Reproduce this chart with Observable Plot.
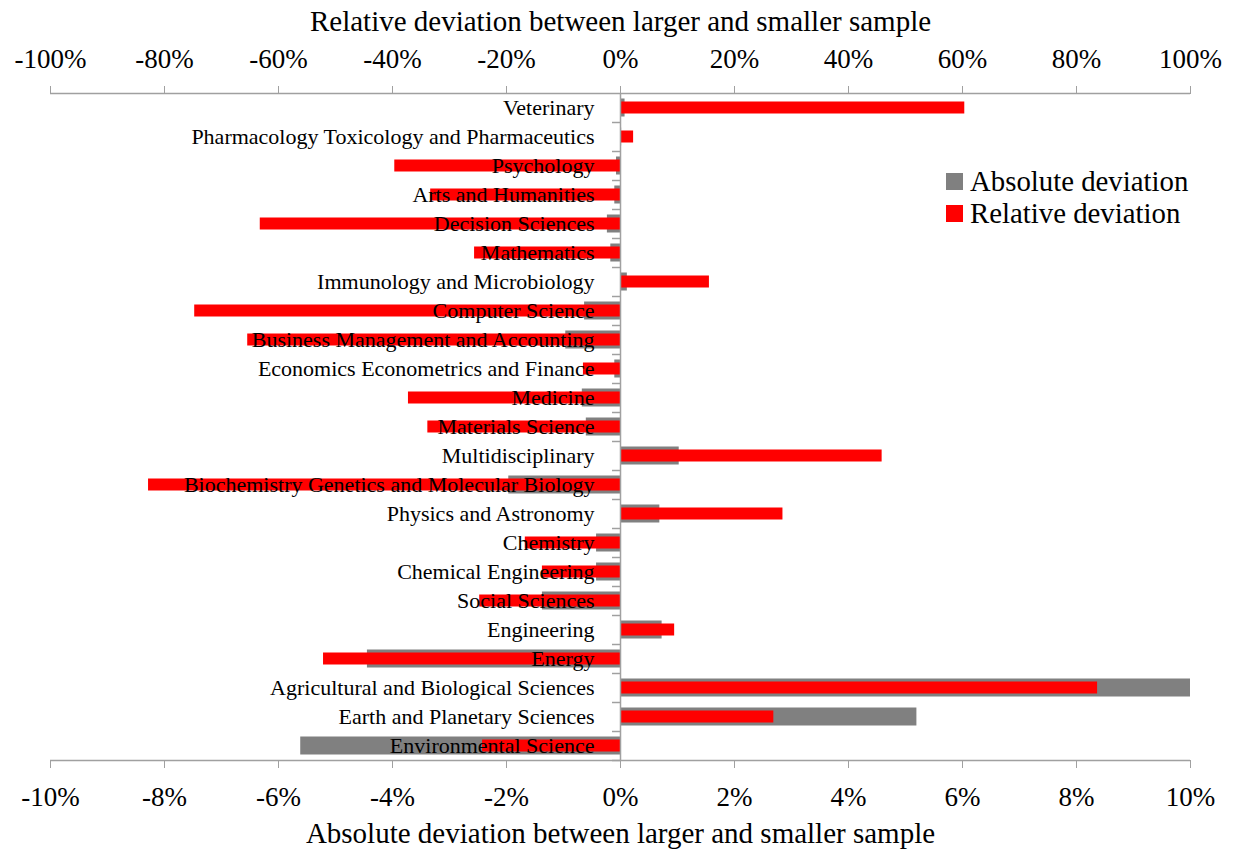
<!DOCTYPE html>
<html>
<head>
<meta charset="utf-8">
<script src="https://cdn.jsdelivr.net/npm/d3@7"></script>
<script src="https://cdn.jsdelivr.net/npm/@observablehq/plot@0.6"></script>
<style>
  html, body { margin: 0; padding: 0; background: #fff; }
  #wrap { position: relative; width: 1233px; height: 855px; font-family: "Liberation Serif", "Times New Roman", serif; }
  #legend { position: absolute; left: 946px; top: 165px; font-size: 28.8px; line-height: 32px; color: #000; }
  #legend div { display: flex; align-items: center; white-space: nowrap; }
  #legend span.sw { display: inline-block; width: 17px; height: 17px; margin-right: 7px; }
  svg text { font-family: "Liberation Serif", "Times New Roman", serif; }
</style>
</head>
<body>
<div id="wrap"><div id="legend"></div></div>
<script>
const categories = [
  "Veterinary",
  "Pharmacology Toxicology and Pharmaceutics",
  "Psychology",
  "Arts and Humanities",
  "Decision Sciences",
  "Mathematics",
  "Immunology and Microbiology",
  "Computer Science",
  "Business Management and Accounting",
  "Economics Econometrics and Finance",
  "Medicine",
  "Materials Science",
  "Multidisciplinary",
  "Biochemistry Genetics and Molecular Biology",
  "Physics and Astronomy",
  "Chemistry",
  "Chemical Engineering",
  "Social Sciences",
  "Engineering",
  "Energy",
  "Agricultural and Biological Sciences",
  "Earth and Planetary Sciences",
  "Environmental Science"
];
// Absolute deviation (%), bottom axis
const absoluteDeviation = [0.08, 0.02, -0.07, -0.10, -0.23, -0.17, 0.12, -0.63, -0.96, -0.10, -0.67, -0.60, 1.03, -1.96, 0.69, -0.42, -0.42, -1.37, 0.73, -4.44, 10.0, 5.20, -5.61];
// Relative deviation (%), top axis
const relativeDeviation = [60.4, 2.3, -39.6, -33.3, -63.2, -25.6, 15.6, -74.7, -65.4, -6.5, -37.2, -33.8, 45.9, -82.8, 28.5, -16.7, -13.7, -24.7, 9.5, -52.1, 83.7, 26.9, -24.2];
const absTicks = [-10, -8, -6, -4, -2, 0, 2, 4, 6, 8, 10];
const relTicks = [-100, -80, -60, -40, -20, 0, 20, 40, 60, 80, 100];
const seriesNames = ["Absolute deviation", "Relative deviation"];
const seriesColors = ["#808080", "#ff0000"];
const topTitle = "Relative deviation between larger and smaller sample";
const bottomTitle = "Absolute deviation between larger and smaller sample";

const rows = categories.map((c, i) => ({cat: c, abs: absoluteDeviation[i], rel: relativeDeviation[i]}));
const axisColor = "#a0a0a0";
const font = "Liberation Serif";

const chart = Plot.plot({
  width: 1233,
  height: 855,
  marginLeft: 50,
  marginRight: 43,
  marginTop: 93,
  marginBottom: 95,
  style: {fontFamily: font, background: "white", color: "black"},
  x: {domain: [-10, 10]},
  y: {domain: categories, padding: 0, axis: null},
  marks: [
    Plot.barX(rows, {x: "abs", y: "cat", fill: seriesColors[0], insetTop: 5.5, insetBottom: 5.5}),
    Plot.barX(rows, {x: d => d.rel / 10, y: "cat", fill: seriesColors[1], insetTop: 8.5, insetBottom: 8.5}),
    Plot.text(rows, {x: 0, y: "cat", text: "cat", textAnchor: "end", dx: -26, fontSize: 22, fontFamily: font, fill: "black"}),
    Plot.ruleX([0], {stroke: axisColor, strokeWidth: 1.5}),
    Plot.ruleY(categories, {y: d => d, x1: 0, x2: -0.14, dy: 14.5, stroke: axisColor, strokeWidth: 1.5}),
    Plot.ruleY([categories[0]], {dy: -14.5, stroke: axisColor, strokeWidth: 1.5}),
    Plot.ruleY([categories[categories.length - 1]], {dy: 14.5, stroke: axisColor, strokeWidth: 1.5}),
    Plot.axisX({anchor: "top", ticks: relTicks.map(v => v / 10), tickFormat: (d, i) => relTicks[i] + "%", tickSize: 8, tickPadding: 18, fontSize: 27, fontFamily: font, stroke: axisColor, fill: "black", label: null}),
    Plot.axisX({anchor: "bottom", ticks: absTicks, tickFormat: d => d + "%", tickSize: 8, tickPadding: 18, fontSize: 27, fontFamily: font, stroke: axisColor, fill: "black", label: null}),
    Plot.text([topTitle], {frameAnchor: "top", text: d => d, dy: -83, fontSize: 29, fontFamily: font, fill: "black"}),
    Plot.text([bottomTitle], {frameAnchor: "bottom", text: d => d, dy: 82, fontSize: 29, fontFamily: font, fill: "black"})
  ]
});
document.getElementById("wrap").appendChild(chart);

const legend = document.getElementById("legend");
seriesNames.forEach((n, i) => {
  const row = document.createElement("div");
  const sw = document.createElement("span");
  sw.className = "sw";
  sw.style.background = seriesColors[i];
  row.appendChild(sw);
  row.appendChild(document.createTextNode(n));
  legend.appendChild(row);
});
</script>
</body>
</html>
